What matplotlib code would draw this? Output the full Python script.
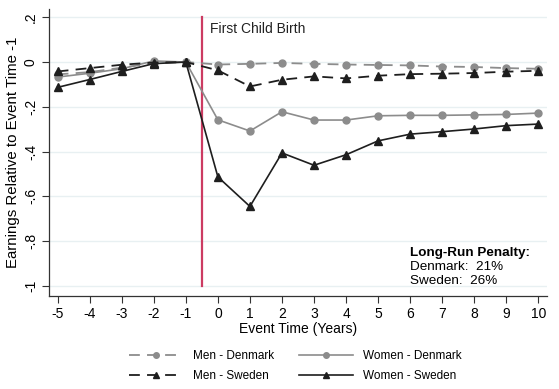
import matplotlib
matplotlib.use("Agg")
import matplotlib.pyplot as plt

event_time = list(range(-5, 11))
men_denmark = [-0.055, -0.045, -0.025, -0.005, 0.0, -0.011, -0.008, -0.004, -0.008, -0.011, -0.013, -0.015, -0.02, -0.022, -0.027, -0.03]
women_denmark = [-0.067, -0.05, -0.03, 0.005, 0.0, -0.258, -0.308, -0.222, -0.259, -0.259, -0.24, -0.238, -0.238, -0.236, -0.234, -0.228]
men_sweden = [-0.042, -0.027, -0.012, -0.002, 0.0, -0.037, -0.109, -0.079, -0.064, -0.073, -0.061, -0.054, -0.052, -0.049, -0.043, -0.039]
women_sweden = [-0.113, -0.078, -0.042, -0.007, 0.0, -0.513, -0.645, -0.406, -0.461, -0.414, -0.352, -0.322, -0.311, -0.299, -0.284, -0.277]

y_ticks = [0.2, 0, -0.2, -0.4, -0.6, -0.8, -1]
y_ticklabels = [".2", "0", "-.2", "-.4", "-.6", "-.8", "-1"]
event_line = -0.5
penalty_denmark = "21%"
penalty_sweden = "26%"

plt.rcParams['font.family'] = ['Liberation Sans', 'DejaVu Sans']

W, H = 559, 389
fig = plt.figure(figsize=(W / 100, H / 100), dpi=100)
ax = fig.add_axes([49 / W, 1 - 296 / H, (547 - 49) / W, (296 - 9) / H])

grid_c = "#e8f0f2"
for yt in y_ticks:
    ax.axhline(yt, color=grid_c, lw=1.0, zorder=0)

light = "#8c8c8c"
dark = "#1e1e1e"
ax.plot(event_time, men_denmark, color=light, ls=(0, (6, 4)), lw=1.3, marker='o', ms=5, mec=light, mfc=light, label="Men - Denmark", zorder=3)
ax.plot(event_time, women_denmark, color=light, ls='-', lw=1.2, marker='o', ms=5, mec=light, mfc=light, label="Women - Denmark", zorder=3)
ax.plot(event_time, men_sweden, color=dark, ls=(0, (6, 4)), lw=1.3, marker='^', ms=6, mec=dark, mfc=dark, label="Men - Sweden", zorder=4)
ax.plot(event_time, women_sweden, color=dark, ls='-', lw=1.2, marker='^', ms=6, mec=dark, mfc=dark, label="Women - Sweden", zorder=4)

ax.plot([event_line, event_line], [-1, 0.2], color="#cc3b62", lw=1.6, zorder=2)
ax.text(event_line + 0.25, 0.147, "First Child Birth", fontsize=10, va='center', ha='left', color="#222222")

ax.text(6.0, -0.854, "Long-Run Penalty:", fontsize=9.7, fontweight='bold', va='center', ha='left')
ax.text(6.0, -0.917, "Denmark:  " + penalty_denmark, fontsize=9.7, va='center', ha='left')
ax.text(6.0, -0.979, "Sweden:  " + penalty_sweden, fontsize=9.7, va='center', ha='left')

ax.set_xlim(-5.27, 10.27)
ax.set_ylim(-1.045, 0.237)
ax.set_xticks(event_time)
ax.set_xticklabels([str(t) for t in event_time], fontsize=10)
ax.set_yticks(y_ticks)
ax.set_yticklabels(y_ticklabels, fontsize=10, rotation=90, va='center')
ax.tick_params(direction='out', length=5, width=0.8, color="#333333", pad=3)
for s in ['top', 'right']:
    ax.spines[s].set_visible(False)
for s in ['left', 'bottom']:
    ax.spines[s].set_color("#333333")
    ax.spines[s].set_linewidth(0.9)

ax.set_xlabel("Event Time (Years)", fontsize=10, labelpad=1)
ax.set_ylabel("Earnings Relative to Event Time -1", fontsize=10.8, labelpad=3)

h, l = ax.get_legend_handles_labels()
order = [0, 2, 1, 3]
leg = fig.legend([h[i] for i in order], [l[i] for i in order], ncol=2, loc='center',
                 bbox_to_anchor=(0.528, 1 - 366 / H), frameon=False, fontsize=8.5,
                 handlelength=4.6, columnspacing=2.1, labelspacing=0.7, handletextpad=0.85,
                 markerscale=0.8)

fig.savefig("out.png", dpi=100)
